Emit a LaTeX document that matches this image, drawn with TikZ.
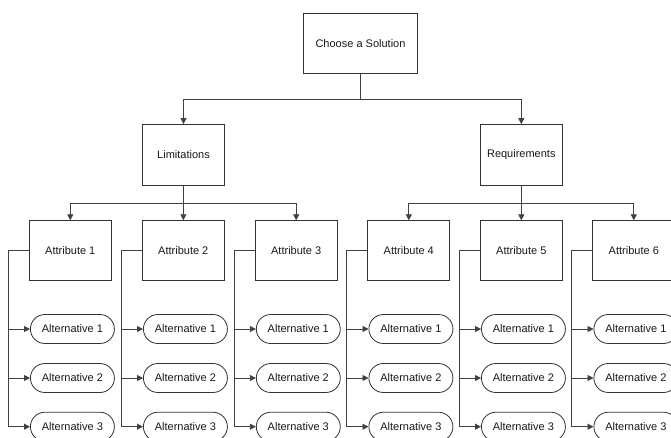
\documentclass[tikz,border=0pt]{standalone}
\usepackage{fontspec}
\setmainfont{Liberation Sans}
\usetikzlibrary{arrows.meta,calc}
\begin{document}
\begin{tikzpicture}[x=1pt,y=-1pt,
  every node/.style={font=\fontsize{11}{13}\selectfont, text=black!90},
  box/.style={draw=black!80, line width=0.8pt, fill=white, minimum width=82pt, minimum height=61pt, inner sep=0pt},
  topbox/.style={box, minimum width=114pt, minimum height=60pt},
  alt/.style={draw=black!80, line width=0.8pt, fill=white, rounded corners=14.5pt, minimum width=84pt, minimum height=29pt, inner sep=0pt},
  link/.style={draw=black!75, line width=0.8pt},
  arr/.style={link, -{Triangle[length=6pt,width=6pt]}}]
\useasboundingbox (0,0) rectangle (671,437);
\clip (0,0) rectangle (671,437);

% root and the two groups
\node[topbox] (root) at (360.5,43.5) {Choose a Solution};
\node[box] (lim) at (183.5,155) {Limitations};
\node[box] (req) at (521.3,155) {Requirements};
\coordinate (bus0) at (360.5,99.5);
\draw[arr] (root.south) -- (bus0) -| (lim.north);
\draw[arr] (bus0) -| (req.north);

% attributes
\foreach \i/\x in {1/70.3, 2/183.3, 3/296.2, 4/408.8, 5/521.3, 6/633.8}{
  \node[box, minimum height=60pt] (att\i) at (\x,250.7) {Attribute \i};
}
\coordinate (bus1) at (183.5,203);
\coordinate (bus2) at (521.3,203);
\draw[arr] (lim.south) -- (bus1) -| (att1.north);
\draw[arr] (bus1) -- (att2.north);
\draw[arr] (bus1) -| (att3.north);
\draw[arr] (req.south) -- (bus2) -| (att4.north);
\draw[arr] (bus2) -- (att5.north);
\draw[arr] (bus2) -| (att6.north);

% alternatives under each attribute
\foreach \i/\x in {1/70.3, 2/183.3, 3/296.2, 4/408.8, 5/521.3, 6/633.8}{
  \coordinate (sp\i) at ($(att\i.west)+(-20.6,0)$);
  \foreach \j/\y in {1/329, 2/378, 3/426.7}{
    \node[alt, anchor=west] (alt\i\j) at (\x-40.3,\y) {Alternative \j};
    \draw[arr] (att\i.west) -- (sp\i) |- (alt\i\j.west);
  }
}
\end{tikzpicture}
\end{document}
